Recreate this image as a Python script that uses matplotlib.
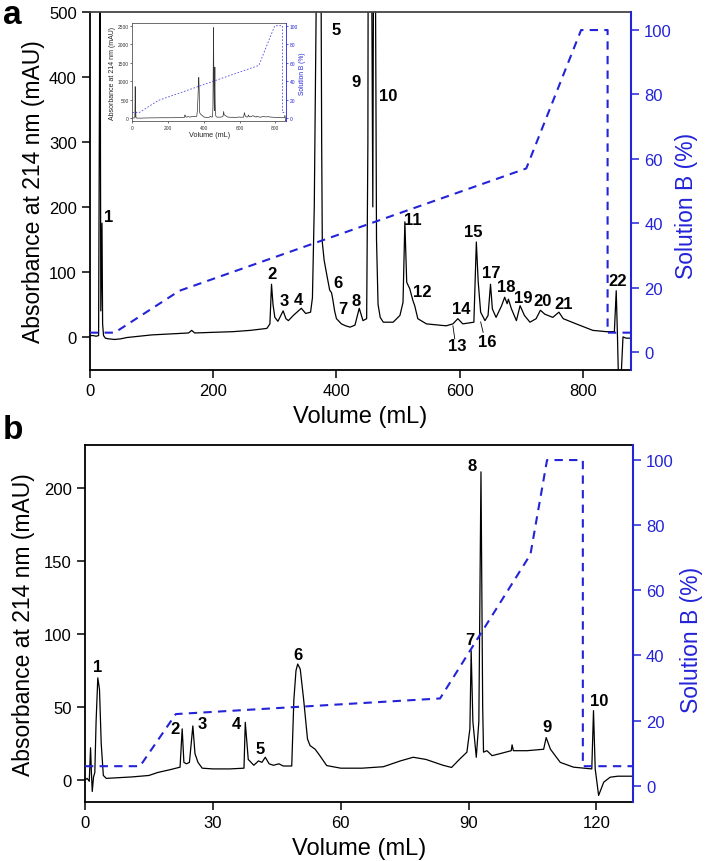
import matplotlib.pyplot as plt

plt.rcParams['font.family'] = ['Liberation Sans', 'DejaVu Sans']

BLUE = '#2323d8'

# ---- panel a : chromatogram (mL, mAU)
a_vol = [0, 5, 10, 14, 15.5, 16.3, 17.0, 17.6, 19.5, 20.5, 22, 25, 30, 40, 50, 60,
         70, 80, 100, 120, 140, 160, 165, 170, 200, 232, 260, 287, 292, 294.6, 297,
         300, 305, 313.5, 318, 322, 330, 343, 350, 358, 361, 364, 367, 370, 372, 374,
         376, 377, 380, 385, 389, 392, 394, 397, 400, 408, 415, 422, 430, 437, 443,
         449, 451, 453, 454.5, 456, 457.5, 459, 460.5, 462, 463.5, 465, 467.5, 471,
         476, 492, 503, 508, 511, 514, 519, 524, 527, 532, 546, 578, 589, 597, 605,
         623, 627, 630, 634, 641, 646, 650, 653, 659, 668, 673, 677, 679, 684, 692,
         698, 705, 714, 724, 731, 738, 751, 761, 768, 789, 816, 838, 851, 854, 856,
         858, 860, 862, 865, 870, 878]
a_abs = [2, 2, 1, 2, 400, 850, 300, 40, 175, 20, 2, -2, -3, -4, -3, -1,
         0, 1, 3, 4, 5, 6, 10, 6, 7, 8, 10, 13, 20, 81, 50,
         30, 24, 40, 28, 25, 33, 44, 36, 38, 60, 200, 500, 900, 1100, 800,
         300, 146, 118, 92, 72, 68, 58, 40, 28, 20, 17, 15, 18, 44, 25,
         28, 300, 1500, 2450, 1200, 500, 200, 700, 1380, 500, 150, 50, 30,
         22.6, 22.6, 33, 53, 177, 84, 74, 56, 48, 28, 20, 17, 20, 28, 20,
         22.6, 146, 85, 38, 25, 33, 81, 43, 30, 48, 61, 51, 58, 43, 25,
         48, 33, 22.6, 28, 41, 35, 30, 38, 28, 20, 10, 8, 8, 71, 2,
         -80, -80, -60, 0, -2, -2]
# gradient, % solution B
a_grad_vol = [0, 40, 145, 708, 797, 840, 840, 878]
a_grad_b = [6, 6, 19, 57, 100, 100, 6, 6]

a_labels = [('1', 31, 186), ('2', 295, 97), ('3', 316, 56), ('4', 339, 58),
            ('5', 400, 473), ('6', 403, 84), ('7', 411, 43), ('8', 432, 56),
            ('9', 432, 393), ('10', 484, 371), ('11', 524, 181), ('12', 539, 70),
            ('13', 596, -14), ('14', 603, 43), ('15', 622, 162), ('16', 644, -7),
            ('17', 651, 99), ('18', 676, 78), ('19', 703, 60), ('20', 734, 56),
            ('21', 769, 52), ('22', 857, 87)]

# ---- panel b
b_vol = [0, 0.5, 1.0, 1.3, 1.5, 1.7, 2.0, 2.3, 2.6, 3.0, 3.4, 3.8, 4.3, 5, 8, 11,
         13, 15, 17, 20, 22.3, 22.8, 23.2, 23.8, 24.5, 25.3, 25.8, 26.5, 27.5, 30,
         34, 37.3, 37.6, 38.3, 39.6, 40.7, 41.5, 42.3, 43.2, 44.2, 45.5, 46.5, 48.5,
         49.0, 49.5, 49.9, 50.5, 51.3, 52.2, 52.8, 54.0, 55.0, 56.7, 60, 65, 70, 74,
         77, 80, 84, 86, 88, 89.6, 90.3, 90.6, 91.0, 91.8, 92.4, 92.9, 93.3, 93.5,
         94.3, 95.5, 97.4, 100, 100.2, 100.5, 103.7, 107.6, 108.2, 109.2, 111.5,
         114.6, 118.9, 119.3, 119.7, 120.5, 121.7, 123.2, 125, 128.5]
b_abs = [0, 1, -1, 22, 5, -8, 2, 5, 40, 70, 62, 25, 3, 1, 1.5, 2,
         2.5, 3, 5, 7, 8.7, 35, 12, 11, 12, 37, 18, 12, 8, 7.5,
         7.5, 8, 39.5, 14, 10, 13, 12, 15.5, 11, 10, 11, 9.5, 9.5,
         55, 75, 79.5, 76, 55, 28, 23.5, 21, 17, 9.8, 8, 8, 9, 13,
         15.5, 14, 10, 8.5, 14.5, 19, 35, 88.6, 40, 15.5, 40, 211.4, 50, 19,
         20, 16.6, 18, 20, 24, 20, 20, 21, 29, 21, 12,
         8.7, 7.5, 47.5, 7.5, -10.7, -1.6, 1.8, 2.5, 2.5]
b_grad_vol = [0, 12.9, 21.3, 83.3, 104.5, 108.4, 116.8, 116.8, 128.5]
b_grad_b = [6, 6, 22, 26.8, 71, 100, 100, 6, 6]

b_labels = [('1', 2.9, 78), ('2', 21.1, 35), ('3', 27.6, 39), ('4', 35.6, 39),
            ('5', 41.2, 21.7), ('6', 49.9, 86), ('7', 90.2, 96.6), ('8', 90.8, 216),
            ('9', 108.4, 36.8), ('10', 120.7, 54.3)]

fig = plt.figure(figsize=(7.09, 8.62), dpi=100)


def style(ax, ax2):
    ax.tick_params(direction='out', length=5.5, width=1.1, labelsize=12, pad=4)
    ax2.tick_params(direction='out', length=5.5, width=1.1, labelsize=12, pad=4,
                    colors=BLUE)
    for s in ['left', 'bottom']:
        ax.spines[s].set_linewidth(1.3)
    ax.spines['top'].set_linewidth(1.3)
    ax.spines['right'].set_visible(False)
    for s in ['left', 'bottom', 'top']:
        ax2.spines[s].set_visible(False)
    ax2.spines['right'].set_color(BLUE)
    ax2.spines['right'].set_linewidth(1.5)
    ax.set_ylabel('Absorbance at 214 nm (mAU)', fontsize=16.5, va='center')
    ax.set_xlabel('Volume (mL)', fontsize=17, labelpad=5)
    ax2.set_ylabel('Solution B (%)', fontsize=16.5, color=BLUE, va='center')
    ax2.set_yticks([0, 20, 40, 60, 80, 100])


# panel a
axa = fig.add_axes([0.1269, 0.5696, 0.7631, 0.4153])
axa2 = axa.twinx()
axa.plot(a_vol, a_abs, color='black', lw=0.9)
axa2.plot(a_grad_vol, a_grad_b, color=BLUE, lw=1.5, linestyle=(0, (4, 3)))
axa.set_xlim(0, 878)
axa.set_ylim(-51, 500)
axa2.set_ylim(-5.6, 105.6)
axa.set_xticks([0, 200, 400, 600, 800])
axa.set_yticks([0, 100, 200, 300, 400, 500])
style(axa, axa2)
axa.spines['top'].set_color('#444444')
axa.yaxis.set_label_coords(-0.105, 0.5)
axa2.yaxis.set_label_coords(1.103, 0.46)
for t, x, y in a_labels:
    axa.text(x, y, t, ha='center', va='center', fontsize=12, fontweight='bold')
axa.plot([589, 592], [17, -3], color='black', lw=0.6)
axa.plot([634, 638], [23, 7], color='black', lw=0.6)
fig.text(0.004, 0.982, 'a', fontsize=24, fontweight='bold', va='center')

# inset
axi = fig.add_axes([0.1866, 0.8581, 0.2168, 0.1137])
axi2 = axi.twinx()
axi.plot(a_vol, a_abs, color='#333333', lw=0.5)
axi2.plot(a_grad_vol, a_grad_b, color=BLUE, lw=0.6, linestyle=(0, (2, 2)), alpha=0.8)
axi.set_xlim(0, 860)
axi.set_ylim(-90, 2565)
axi2.set_ylim(-3.6, 102.6)
axi.set_xticks([0, 200, 400, 600, 800])
axi.set_yticks([0, 500, 1000, 1500, 2000, 2500])
axi2.set_yticks([0, 20, 40, 60, 80, 100])
axi.tick_params(length=1.5, width=0.5, labelsize=3.5, pad=1, colors='#333333')
axi2.tick_params(length=1.5, width=0.5, labelsize=3.5, pad=1, colors=BLUE)
for s in axi.spines.values():
    s.set_linewidth(0.6)
    s.set_color('#555555')
axi.spines['right'].set_visible(False)
for s in ['left', 'bottom', 'top']:
    axi2.spines[s].set_visible(False)
axi2.spines['right'].set_color(BLUE)
axi2.spines['right'].set_linewidth(0.6)
axi.set_xlabel('Volume (mL)', fontsize=5.2, labelpad=1, color='#222222')
axi.set_ylabel('Absorbance at 214 nm (mAU)', fontsize=5, labelpad=1, color='#222222')
axi2.set_ylabel('Solution B (%)', fontsize=4.8, labelpad=1, color=BLUE)

# panel b
axb = fig.add_axes([0.1199, 0.0688, 0.7725, 0.4141])
axb2 = axb.twinx()
axb.plot(b_vol, b_abs, color='black', lw=0.9)
axb2.plot(b_grad_vol, b_grad_b, color=BLUE, lw=1.5, linestyle=(0, (4, 3)))
axb.set_xlim(0, 128.5)
axb.set_ylim(-15, 230)
axb2.set_ylim(-4.9, 104.7)
axb.set_xticks([0, 30, 60, 90, 120])
axb.set_yticks([0, 50, 100, 150, 200])
style(axb, axb2)
axb.yaxis.set_label_coords(-0.113, 0.5)
axb2.yaxis.set_label_coords(1.108, 0.455)
for t, x, y in b_labels:
    axb.text(x, y, t, ha='center', va='center', fontsize=12, fontweight='bold')
fig.text(0.004, 0.501, 'b', fontsize=24, fontweight='bold', va='center')

fig.savefig('out.png', dpi=100)
